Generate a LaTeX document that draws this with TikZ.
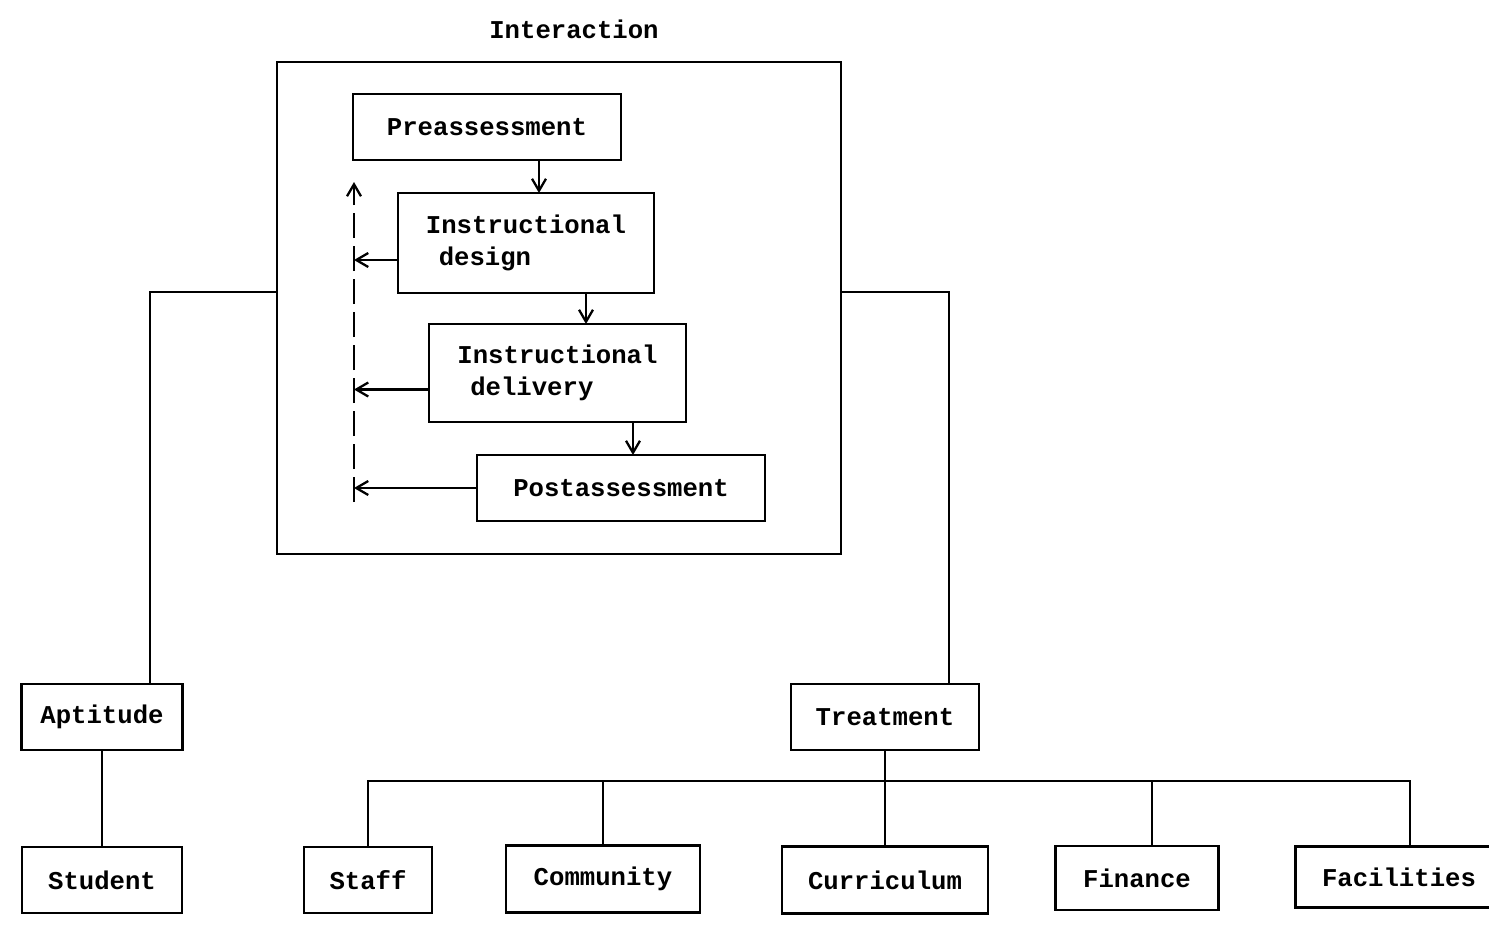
\documentclass[tikz,border=0pt]{standalone}
\usepackage{fontspec}
\setmonofont{Liberation Mono}
\usetikzlibrary{arrows.meta}
\begin{document}
\begin{tikzpicture}[x=0.02cm,y=-0.02cm,
  txt/.style={font=\ttfamily\bfseries\fontsize{14.6}{18}\selectfont},
  box/.style={txt, draw, line width=1.3pt, inner sep=0pt, outer sep=0pt, align=left},
  conn/.style={line width=1.3pt},
  arr/.style={line width=1.3pt, -{Straight Barb[length=2.4mm,width=2.8mm,line width=1.3pt]}}
]
\useasboundingbox (0,0) rectangle (1489,931);
\begin{scope}[shift={(745,465)}]
  % title and enclosing box
  \node[txt] (title) at (-171,-436) {Interaction};
  \node[box, minimum width=11.28cm, minimum height=9.84cm] (inter) at (-186,-157) {};
  % inner cycle
  \node[box, minimum width=5.36cm, minimum height=1.32cm] (pre) at (-258,-338) {Preassessment};
  \node[box, minimum width=5.12cm, minimum height=2cm] (id) at (-219,-222) {Instructional\\\hspace{0.5em}design};
  \node[box, minimum width=5.14cm, minimum height=1.96cm] (idel) at (-187.5,-92) {Instructional\\\hspace{0.5em}delivery};
  \node[box, minimum width=5.76cm, minimum height=1.32cm] (post) at (-124,23) {Postassessment};
  \coordinate (x1) at (-206,0);
  \coordinate (x2) at (-159,0);
  \coordinate (x3) at (-112,0);
  \draw[arr] (pre.south -| x1) -- (id.north -| x1);
  \draw[arr] (id.south -| x2) -- (idel.north -| x2);
  \draw[arr] (idel.south -| x3) -- (post.north -| x3);
  \coordinate (dx) at (-391,0);
  \coordinate (db) at (-391,37);
  \coordinate (dt) at (-391,-283);
  \draw[arr, dash pattern=on 0.5cm off 0.16cm] (db) -- (dt);
  \coordinate (idw) at ([yshift=-0.34cm]id.west);
  \coordinate (idelw) at ([yshift=-0.33cm]idel.west);
  \draw[arr] (idw) -- (idw -| dx);
  \draw[arr] (idelw) -- (idelw -| dx);
  \draw[arr] (post.west) -- (post.west -| dx);
  % lower boxes
  \node[box, minimum width=3.22cm, minimum height=1.32cm] (apt) at (-643,252) {Aptitude};
  \node[box, minimum width=3.2cm, minimum height=1.32cm] (stu) at (-643,415) {Student};
  \node[box, minimum width=3.76cm, minimum height=1.32cm] (treat) at (140,252) {Treatment};
  \node[box, minimum width=2.56cm, minimum height=1.32cm] (staff) at (-377,415) {Staff};
  \node[box, minimum width=3.88cm, minimum height=1.34cm] (comm) at (-142,414) {Community};
  \node[box, minimum width=4.12cm, minimum height=1.34cm] (curr) at (140,415) {Curriculum};
  \node[box, minimum width=3.26cm, minimum height=1.28cm] (fin) at (392,413) {Finance};
  \node[box, minimum width=4.14cm, minimum height=1.22cm] (fac) at (654,412) {Facilities};
  % connectors
  \coordinate (aptin) at ([xshift=0.96cm]apt.north);
  \coordinate (treatin) at ([xshift=1.28cm]treat.north);
  \draw[conn] ([yshift=0.32cm]inter.west) -| (aptin);
  \draw[conn] ([yshift=0.32cm]inter.east) -| (treatin);
  \draw[conn] (apt.south) -- (stu.north);
  \coordinate (busy) at (0,316);
  \coordinate (findrop) at ([xshift=0.3cm]fin.north);
  \coordinate (facdrop) at ([xshift=0.22cm]fac.north);
  \draw[conn] (treat.south) -- (curr.north);
  \draw[conn] (staff.north) |- (facdrop |- busy) -- (facdrop);
  \draw[conn] (comm.north) -- (comm.north |- busy);
  \draw[conn] (findrop) -- (findrop |- busy);
\end{scope}
\end{tikzpicture}
\end{document}
